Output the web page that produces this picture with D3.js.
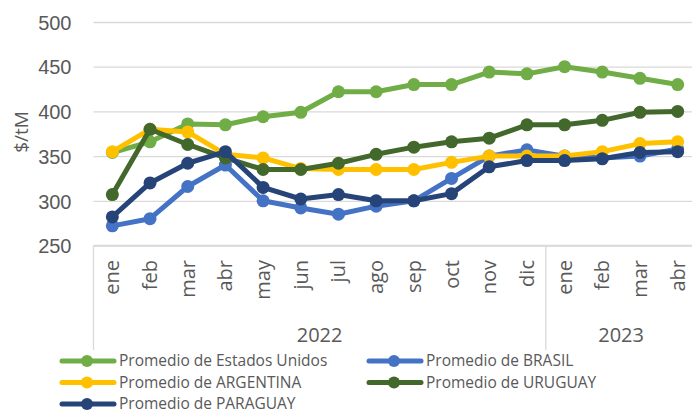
<!DOCTYPE html>
<html>
<head>
<meta charset="utf-8">
<script src="https://cdn.jsdelivr.net/npm/d3@7"></script>
<style>
  body { margin: 0; background: #fff; }
  svg { display: block; font-family: "Open Sans", sans-serif; }
</style>
</head>
<body>
<div id="chart"></div>
<script>
var months = ['ene', 'feb', 'mar', 'abr', 'may', 'jun', 'jul', 'ago', 'sep', 'oct', 'nov', 'dic',
              'ene', 'feb', 'mar', 'abr'];
var years = [{label: '2022', from: 0, to: 11}, {label: '2023', from: 12, to: 15}];
var yTicks = [250, 300, 350, 400, 450, 500];

var estadosUnidos = [354, 366, 386, 385, 394, 399, 422, 422, 430, 430, 444, 442, 450, 444, 437, 430];
var brasil        = [272, 280, 316, 340, 300, 292, 285, 294, 300, 325, 350, 357, 350, 348, 350, 358];
var argentina     = [355, 380, 377, 352, 348, 336, 335, 335, 335, 343, 350, 350, 350, 355, 364, 366];
var uruguay       = [307, 380, 363, 348, 335, 335, 342, 352, 360, 366, 370, 385, 385, 390, 399, 400];
var paraguay      = [282, 320, 342, 355, 315, 302, 307, 300, 300, 308, 338, 345, 345, 347, 354, 355];

var series = [
    {name: 'Promedio de Estados Unidos', values: estadosUnidos, color: '#70ad47'},
    {name: 'Promedio de BRASIL', values: brasil, color: '#4472c4'},
    {name: 'Promedio de ARGENTINA', values: argentina, color: '#ffc000'},
    {name: 'Promedio de URUGUAY', values: uruguay, color: '#43682b'},
    {name: 'Promedio de PARAGUAY', values: paraguay, color: '#264478'}
];

var width = 692;
var height = 414;
var plotLeft = 93.5;
var plotRight = 696.5;
var plotTop = 22;
var plotBottom = 245.5;
var textColor = '#595959';
var gridColor = '#d9d9d9';

var svg = d3.select('#chart')
    .append('svg')
    .attr('width', width)
    .attr('height', height);

var x = d3.scaleBand().domain(d3.range(months.length)).range([plotLeft, plotRight]).padding(0);
var y = d3.scaleLinear().domain([250, 500]).range([plotBottom, plotTop]);
function cx(i) { return x(i) + x.bandwidth() / 2; }

// gridlines + y labels
var yAxis = d3.axisLeft(y).tickValues(yTicks).tickSize(-(plotRight - plotLeft)).tickPadding(22);
svg.append('g')
    .attr('class', 'y axis')
    .attr('transform', 'translate(' + plotLeft + ',0)')
    .call(yAxis)
    .call(function (g) {
        g.select('.domain').remove();
        g.selectAll('line').attr('stroke', gridColor).attr('stroke-width', 1.3);
        g.selectAll('text').attr('fill', textColor).attr('font-size', 20)
            .attr('dy', '0.36em');
    });

svg.append('text')
    .text('$/tM')
    .attr('transform', 'translate(28,132) rotate(-90)')
    .attr('text-anchor', 'middle')
    .attr('fill', textColor)
    .attr('font-size', 19);

// x axis: month labels, year groups
var xg = svg.append('g').attr('class', 'x axis');
xg.append('line')
    .attr('x1', plotLeft).attr('x2', plotRight)
    .attr('y1', plotBottom).attr('y2', plotBottom)
    .attr('stroke', gridColor).attr('stroke-width', 1.3);

xg.selectAll('.month')
    .data(months)
    .enter()
    .append('text')
    .attr('class', 'month')
    .text(function (d) { return d; })
    .attr('transform', function (d, i) { return 'translate(' + cx(i) + ',260) rotate(-90)'; })
    .attr('text-anchor', 'end')
    .attr('dy', '0.35em')
    .attr('fill', textColor)
    .attr('font-size', 20);

var dividers = [plotLeft, x(years[1].from)];
xg.selectAll('.divider')
    .data(dividers)
    .enter()
    .append('line')
    .attr('x1', function (d) { return d; })
    .attr('x2', function (d) { return d; })
    .attr('y1', plotBottom).attr('y2', 350)
    .attr('stroke', gridColor).attr('stroke-width', 1.3);

xg.selectAll('.year')
    .data(years)
    .enter()
    .append('text')
    .text(function (d) { return d.label; })
    .attr('x', function (d) { return (x(d.from) + x(d.to) + x.bandwidth()) / 2; })
    .attr('y', 342)
    .attr('text-anchor', 'middle')
    .attr('fill', textColor)
    .attr('font-size', 20);

// lines
var line = d3.line()
    .x(function (d, i) { return cx(i); })
    .y(function (d) { return y(d); });

var sg = svg.selectAll('.series')
    .data(series)
    .enter()
    .append('g')
    .attr('class', 'series');

sg.append('path')
    .attr('d', function (d) { return line(d.values); })
    .attr('fill', 'none')
    .attr('stroke', function (d) { return d.color; })
    .attr('stroke-width', 5)
    .attr('stroke-linejoin', 'round')
    .attr('stroke-linecap', 'round');

sg.selectAll('circle')
    .data(function (d) { return d.values.map(function (v) { return {v: v, color: d.color}; }); })
    .enter()
    .append('circle')
    .attr('cx', function (d, i) { return cx(i); })
    .attr('cy', function (d) { return y(d.v); })
    .attr('r', 6.5)
    .attr('fill', function (d) { return d.color; });

// legend
var legendPos = [[60, 361], [367, 361], [60, 382.5], [367, 382.5], [60, 404]];
var lg = svg.selectAll('.legend')
    .data(series)
    .enter()
    .append('g')
    .attr('class', 'legend')
    .attr('transform', function (d, i) { return 'translate(' + legendPos[i][0] + ',' + legendPos[i][1] + ')'; });

lg.append('line')
    .attr('x1', 2).attr('x2', 54)
    .attr('stroke', function (d) { return d.color; })
    .attr('stroke-width', 5)
    .attr('stroke-linecap', 'round');
lg.append('circle')
    .attr('cx', 27).attr('r', 6)
    .attr('fill', function (d) { return d.color; });
lg.append('text')
    .text(function (d) { return d.name; })
    .attr('x', 59)
    .attr('dy', '0.35em')
    .attr('fill', textColor)
    .attr('font-size', 15.5);
</script>
</body>
</html>
